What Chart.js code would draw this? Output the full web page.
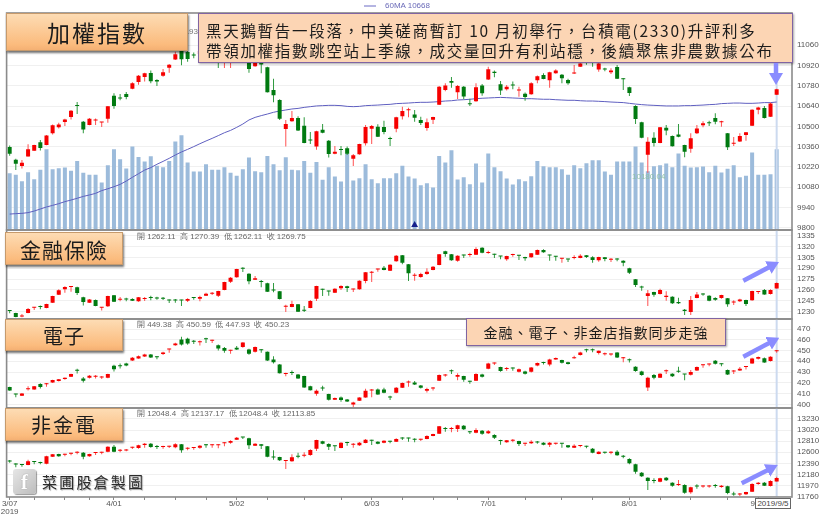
<!DOCTYPE html>
<html><head><meta charset="utf-8">
<script src="https://cdn.jsdelivr.net/npm/chart.js@4/dist/chart.umd.min.js"></script>
<style>
html,body{margin:0;padding:0;background:#fff}
#stage{position:relative;width:820px;height:517px;overflow:hidden;background:#fff;font-family:"Liberation Sans",Arial,sans-serif}
canvas{position:absolute;left:0;filter:blur(.3px)}
.tag{position:absolute;box-sizing:border-box;border:1px solid #c69a6c;background:linear-gradient(#fddcb4,#fbbb7d 85%,#f4b073);box-shadow:1px 2px 2px rgba(0,0,0,.55);color:#1c1c1c;font-family:"Noto Sans CJK TC";display:flex;align-items:center;justify-content:center;white-space:nowrap}
.note{position:absolute;box-sizing:border-box;border:1px solid #8064a2;background:#fcd5b4;color:#1c1c1c;font-family:"Noto Sans CJK TC";white-space:nowrap;box-shadow:1px 1px 2px rgba(0,0,0,.35)}
.info{position:absolute;left:137px;font-size:8px;line-height:10px;color:#666;white-space:nowrap}
</style></head><body>
<div id="stage">
<canvas id="c0" width="820" height="221" style="top:11px;width:820px;height:221px"></canvas>
<canvas id="c1" width="820" height="93" style="top:228px;width:820px;height:93px"></canvas>
<canvas id="c2" width="820" height="93" style="top:317px;width:820px;height:93px"></canvas>
<canvas id="c3" width="820" height="111" style="top:406px;width:820px;height:111px"></canvas>

<svg width="40" height="10" style="position:absolute;left:360px;top:1px"><line x1="4" y1="5" x2="16" y2="5" stroke="#6a6ac4" stroke-width="1"/></svg>
<div style="position:absolute;left:385px;top:1px;font-size:8px;line-height:10px;color:#6a6ab8">60MA 10668</div>
<div style="position:absolute;left:170px;top:27px;width:28px;text-align:right;font-size:8px;line-height:10px;color:#777">.93</div>
<div style="position:absolute;left:632px;top:172px;font-size:8px;line-height:10px;color:#8fbfa8">10180.04</div>

<div class="info" style="top:232px">開 1262.11 &nbsp;高 1270.39 &nbsp;低 1262.11 &nbsp;收 1269.75</div>
<div class="info" style="top:320px">開 449.38 &nbsp;高 450.59 &nbsp;低 447.93 &nbsp;收 450.23</div>
<div class="info" style="top:409px">開 12048.4 &nbsp;高 12137.17 &nbsp;低 12048.4 &nbsp;收 12113.85</div>

<div class="tag" style="left:6px;top:13px;width:182px;height:38px;font-size:23px;letter-spacing:2px">加權指數</div>
<div class="tag" style="left:5px;top:232px;width:118px;height:33px;font-size:21px;letter-spacing:1px">金融保險</div>
<div class="tag" style="left:5px;top:319px;width:118px;height:32px;font-size:20px;letter-spacing:1px">電子</div>
<div class="tag" style="left:5px;top:408px;width:118px;height:33px;font-size:20px;letter-spacing:2px">非金電</div>

<div class="note" style="left:198px;top:13px;width:595px;height:50px;font-size:15.5px;letter-spacing:1.7px;line-height:20px;padding:6px 0 0 7px">黑天鵝暫告一段落，中美磋商暫訂 10 月初舉行，台積電(2330)升評利多<br>帶領加權指數跳空站上季線，成交量回升有利站穩，後續聚焦非農數據公布</div>
<div class="note" style="left:466px;top:318px;width:260px;height:28px;font-size:14px;letter-spacing:1px;line-height:26px;text-align:center">金融、電子、非金店指數同步走強</div>

<div style="position:absolute;left:13px;top:469px;width:23px;height:25px;border-radius:3px;background:linear-gradient(135deg,#e6e6e6,#bdbdbd);box-shadow:1px 1px 1px rgba(0,0,0,.4);color:#fff;font:bold 22px/25px 'Liberation Serif',serif;text-align:center;text-shadow:0 0 1px #777">f</div>
<div style="position:absolute;left:42px;top:472px;font-family:'Noto Sans CJK TC';font-size:15px;line-height:20px;letter-spacing:2.2px;color:#2c2c2c;text-shadow:1px 1px 1px rgba(0,0,0,.35);white-space:nowrap">菜圃股倉製圖</div>

<div style="position:absolute;left:755px;top:498px;width:36px;height:11px;box-sizing:border-box;border:1px solid #666;background:#fff;font-size:8px;line-height:9px;text-align:center;color:#444;white-space:nowrap">2019/9/5</div>

<svg width="820" height="517" style="position:absolute;left:0;top:0;pointer-events:none">
<defs><marker id="ah" markerUnits="userSpaceOnUse" viewBox="0 0 12 14" refX="4" refY="7" markerWidth="12" markerHeight="14" orient="auto"><path d="M0,0 L12,7 L0,14 Z" fill="#8a8cff"/></marker></defs>
<g stroke="#8a8cff" stroke-width="4.5" marker-end="url(#ah)">
<line x1="776" y1="63" x2="776" y2="77"/>
<line x1="743.3" y1="280.7" x2="771.9" y2="265.7"/>
<line x1="743.3" y1="356.7" x2="772.2" y2="341.4"/>
<line x1="741.7" y1="483.3" x2="770.6" y2="468.7"/>
</g></svg>
</div>
<script>
// --- Taiwan weighted index (加權指數) ---
const idxOpen=[10357,10270,10226,10291,10332,10390,10371,10452,10493,10530,
10565,10641,10532,10509,10540,10527,10553,10712,10695,10723,
10760,10806,10841,10869,10820,10850,10905,10961,11021,11014,
10992,11000,11030,11060,11040,11000,10990,11020,11040,10960,
10915,10950,10908,10751,10682,10482,10535,10558,10505,10404,
10360,10477,10401,10311,10338,10348,10277,10307,10383,10484,
10498,10496,10414,10484,10569,10612,10581,10544,10489,10546,
10650,10751,10813,10735,10774,10655,10673,10783,10823,10878,
10790,10756,10784,10748,10726,10721,10818,10855,10818,10866,
10857,10820,10865,10912,10980,10970,10892,10895,10873,10910,
10828,10770,10641,10528,10304,10422,10385,10491,10433,10443,
10371,10346,10452,10507,10524,10558,10528,10452,10379,10396,
10440,10505,10615,10627,10567,10719];
const idxClose=[10311,10242,10249,10341,10371,10350,10436,10507,10512,10548,
10608,10640,10479,10553,10542,10529,10638,10641,10693,10703,
10797,10850,10866,10811,10809,10873,10926,10998,10963,10965,
10990,11020,11050,11040,11000,11030,11020,11050,11010,10896,
10950,10928,10735,10714,10553,10516,10558,10472,10385,10402,
10466,10456,10309,10325,10336,10311,10300,10378,10496,10502,
10429,10461,10412,10562,10606,10614,10560,10523,10528,10565,
10774,10783,10802,10779,10707,10653,10770,10728,10894,10869,
10747,10774,10782,10750,10703,10797,10846,10827,10873,10885,
10832,10797,10867,10935,10950,10940,10935,10893,10885,10829,
10826,10730,10551,10422,10394,10385,10493,10472,10362,10429,
10325,10417,10486,10521,10522,10532,10535,10355,10381,10433,
10459,10615,10631,10558,10657,10756];
const idxHigh=[10367,10277,10268,10376,10373,10406,10440,10512,10525,10553,
10613,10668,10537,10558,10555,10530,10641,10728,10723,10737,
10804,10855,10871,10885,10825,10896,10931,11016,11028,11021,
11011,11040,11070,11080,11060,11050,11040,11060,11060,10990,
10970,10960,10912,10829,10687,10544,10606,10569,10562,10461,
10470,10516,10406,10364,10364,10360,10309,10380,10509,10509,
10514,10539,10429,10567,10636,10629,10613,10567,10555,10567,
10779,10797,10841,10786,10779,10691,10797,10793,10912,10885,
10813,10786,10809,10774,10733,10804,10852,10866,10878,10894,
10862,10829,10924,10960,11000,10990,10950,10905,10901,10924,
10832,10774,10645,10532,10424,10459,10495,10509,10436,10516,
10373,10452,10509,10535,10539,10590,10539,10454,10426,10452,
10461,10618,10636,10641,10664,10760];
const idxLow=[10297,10198,10208,10291,10332,10334,10369,10443,10486,10502,
10548,10585,10452,10507,10509,10496,10525,10622,10680,10687,
10756,10788,10809,10797,10779,10843,10871,10958,10922,10947,
10970,10990,11020,11020,10903,10903,10903,10990,10990,10871,
10912,10866,10733,10666,10544,10360,10532,10468,10383,10378,
10339,10452,10284,10307,10300,10302,10226,10304,10367,10378,
10427,10445,10364,10459,10548,10562,10532,10509,10470,10516,
10648,10742,10767,10689,10687,10641,10670,10712,10820,10839,
10717,10747,10756,10705,10677,10719,10797,10825,10767,10864,
10797,10788,10862,10910,10925,10912,10878,10880,10862,10827,
10751,10710,10516,10417,10180,10360,10383,10438,10360,10424,
10286,10318,10447,10493,10502,10514,10498,10337,10364,10392,
10401,10503,10583,10555,10565,10717];
const ma60=[9894,9897,9899,9904,9915,9929,9943,9954,9966,9980,
9991,10003,10016,10026,10037,10056,10069,10083,10099,10122,
10148,10173,10198,10215,10238,10258,10279,10302,10323,10341,
10360,10380,10399,10417,10436,10456,10472,10493,10516,10544,
10562,10574,10585,10597,10606,10613,10620,10624,10631,10636,
10641,10643,10645,10645,10643,10638,10636,10638,10643,10645,
10647,10650,10652,10657,10659,10661,10664,10666,10666,10668,
10671,10675,10677,10682,10684,10687,10691,10694,10696,10698,
10700,10698,10696,10694,10691,10691,10689,10687,10687,10684,
10682,10680,10680,10677,10675,10675,10673,10671,10668,10666,
10664,10659,10654,10650,10647,10645,10643,10641,10641,10641,
10643,10643,10645,10647,10650,10652,10657,10659,10661,10661,
10659,10659,10661,10664,10664,10668];
const volume=[169,164,145,172,151,179,241,181,184,186,
176,206,170,164,164,141,193,241,211,183,
249,218,204,220,191,187,206,264,283,201,
174,174,196,179,179,187,170,161,181,216,
175,172,221,196,178,217,179,178,206,170,
203,149,187,159,144,228,147,154,196,151,
139,154,154,169,191,159,153,133,139,126,
221,201,238,150,157,136,198,141,228,187,
175,153,135,151,145,160,206,190,187,187,
181,164,193,184,199,208,208,174,164,204,
204,204,249,201,175,190,193,198,187,228,
191,186,187,189,172,191,171,182,193,157,
161,231,164,164,166,241];
// --- Finance & insurance (金融保險) ---
const finOpen=[1231,1228.2,1223.5,1228.2,1235.4,1236.5,1235.1,1242.4,1253.5,1260.9,
1264,1263.6,1249.8,1242.4,1246.1,1235.4,1237.4,1252.6,1246.5,1247.1,
1247.5,1244.3,1247.4,1249,1248.5,1248.1,1245.8,1245.8,1245.8,1245.2,
1249,1248,1252.1,1254.8,1252.1,1259.9,1271.4,1277.4,1289.5,1282.5,
1274.2,1271.1,1269.1,1259.6,1258.1,1236.8,1236.4,1240.1,1231.5,1235.1,
1248,1260.5,1258.2,1256.2,1262.2,1265,1260.8,1260.9,1272.4,1283.9,
1288.4,1290.8,1286.6,1299.5,1307.8,1295.4,1279.6,1277.9,1282,1287.6,
1294.5,1313.4,1309.2,1300.5,1307.9,1308.2,1308.7,1318.4,1310.9,1308.8,
1306.5,1302.3,1308.3,1307.5,1305.5,1305.1,1308.7,1315.2,1307.9,1306.1,
1303.1,1302.4,1304,1304.1,1307.8,1305.1,1300.9,1305.1,1301.7,1302.4,
1300.5,1289.9,1274.7,1263.7,1251.6,1257.2,1254.4,1250.3,1250.7,1243.4,
1232.8,1229.5,1248.9,1254,1252.1,1248.9,1248.9,1248.4,1242.8,1244.3,
1246.1,1245.7,1257.1,1259.9,1254.4,1262.11];
const finClose=[1230.8,1222.6,1223.7,1233.7,1235.6,1236.3,1240.6,1251.6,1259.5,1264.1,
1264.2,1255.8,1243.4,1247,1237.8,1235.6,1251.6,1243.8,1246.7,1246.9,
1245.2,1249.8,1247.6,1248.8,1248.3,1247.9,1245.6,1245.6,1245.6,1247.5,
1248.8,1250.3,1254.9,1255,1258.6,1271,1277,1288.9,1289.3,1271.9,
1276,1270.9,1257.6,1259.4,1247.5,1237,1240.6,1230,1231.3,1244.7,
1265.5,1260.3,1258,1261.8,1265.5,1262.7,1261,1272.8,1284.3,1285.3,
1288.6,1287.6,1294.9,1307.4,1297.7,1283,1279.8,1282,1285.3,1292.2,
1309.2,1309.7,1300.9,1307.4,1307.7,1308.4,1316.6,1311.5,1311.1,1308.6,
1306.3,1306.9,1309.7,1307.3,1303.7,1310.6,1315.2,1312,1307.7,1305.9,
1303.3,1302.2,1304.2,1307.4,1305.5,1301.4,1305.5,1302.8,1301.9,1302.2,
1297.7,1283.9,1266.8,1263.5,1255.3,1253.5,1259.9,1252.1,1241.5,1241.5,
1230.9,1246.1,1253.9,1253.8,1245.2,1246.6,1253,1240.1,1243,1247,
1240.6,1258.6,1257.3,1253.9,1259.9,1269.75];
const finHigh=[1232.3,1228.6,1226.8,1235.1,1236.4,1238.7,1241.1,1252.1,1260.9,1265,
1265.5,1264.5,1250.7,1247.5,1247,1236.4,1252.1,1253,1250.3,1249.3,
1248.4,1250.3,1250.3,1252.1,1250.7,1250.3,1247,1247.5,1246.6,1248.4,
1250.3,1252.1,1256.2,1257.2,1259,1271.4,1277.9,1289.4,1291.2,1283,
1279.3,1273.7,1270.1,1269.6,1258.6,1239.7,1245.2,1240.6,1237.8,1246.1,
1265.9,1261.8,1259,1262.2,1266.4,1265.9,1261.8,1273.3,1284.8,1286.2,
1289.4,1293.1,1295.4,1308.3,1308.3,1295.9,1283,1283.9,1289.9,1293.1,
1309.7,1314.3,1309.7,1307.8,1308.7,1311.5,1318.9,1318.9,1314.3,1310.1,
1306.9,1307.4,1310.1,1308.3,1306,1311,1315.7,1316.1,1308.7,1306.9,
1304.1,1303.2,1307.8,1309.2,1308.3,1306.4,1306,1305.5,1304.1,1303.7,
1300.9,1290.8,1275.1,1265.9,1259.9,1257.6,1261.8,1258.1,1251.2,1249.3,
1233.7,1251.6,1257.2,1255.3,1252.6,1249.8,1253.5,1248.9,1245.7,1248,
1246.6,1259,1258.6,1261.3,1260.9,1270.39];
const finLow=[1227.7,1222.2,1222.2,1227.7,1232.3,1233.2,1234.6,1242,1253,1256.2,
1257.6,1253,1238.7,1242,1237.4,1231.8,1236.4,1243.4,1244.3,1244.3,
1244.7,1243.8,1244.7,1245.7,1246.6,1246.1,1242,1242.4,1237.8,1243.4,
1246.6,1244.3,1251.6,1253,1250.3,1259.5,1269.6,1277,1284.8,1267.8,
1273.7,1263.6,1257.2,1256.7,1247,1229.5,1236,1229.5,1229.5,1234.6,
1244.7,1251.6,1252.1,1255.8,1259.9,1257.2,1257.2,1260.4,1269.1,1271,
1285.3,1287.1,1286.2,1299.1,1295.4,1272.4,1272.8,1277,1281.1,1287.1,
1294,1306,1300.5,1299.1,1304.1,1306,1308.3,1310.6,1310.1,1304.1,
1302.3,1300.5,1306,1301.4,1300.5,1304.6,1308.3,1311.5,1300.5,1300.5,
1297.7,1298.6,1302.3,1303.7,1304.1,1297.7,1299.1,1299.5,1298.6,1299.5,
1292.6,1282,1264.1,1259,1237.8,1250.7,1253.9,1245.2,1240.6,1240.6,
1225.4,1225.4,1248.4,1252.1,1244.3,1245.2,1248,1236.9,1239.2,1243.4,
1237.8,1245.2,1254.4,1253.5,1253.9,1262.11];
// --- Electronics (電子) ---
const eleOpen=[416,409.3,408,414.1,413.9,418.8,418.7,420.4,421.6,423.5,
425.7,431.3,424.1,424.7,425.6,424.9,424.7,435.8,435.6,438,
440.8,442.7,444.5,446.4,444,446.7,450.9,455,460.3,460.9,
458.3,457.7,460.7,459,455,452.3,449.7,452.6,453.2,451,
448.9,450.5,448.9,441.7,437.1,428.3,429.4,427.8,426.3,416.7,
409.8,414.9,409.5,404.3,406.4,404.6,399.9,403.3,406.4,412.9,
413.9,413.9,406.5,410.8,415.4,420.3,420.4,417.6,412.6,414.7,
421.9,426.8,431,425.6,426.3,421.1,421.9,427.8,433,437.9,
434.6,432.9,433.5,430.3,430.6,430.3,436.1,438.7,437.1,441.7,
441.1,439.2,442.9,445.8,450.5,450.5,447.6,446.6,446.3,448.2,
442.9,441.2,434.9,430.6,415.7,427.2,424.7,430.8,428.4,430.4,
427.9,427.5,431.5,436.4,437,440.5,437.5,431.8,430.5,431.5,
434.8,438,442.3,442.9,440.2,449.38];
const eleClose=[412.9,409.1,410.1,414.3,416.7,416,418.9,422.6,423.2,424.7,
428.1,431.1,421.9,426.6,425.8,425.1,428.1,432.7,435.4,436.1,
443.3,444.8,446.4,443.6,443.8,448.2,451.1,456.6,455.7,456.6,
458.1,457.9,460.5,459.2,452,449.8,449.9,451,457.5,447,
453.2,450.3,440.8,439.2,429,428.5,429.2,424.1,415.7,413.2,
412.6,414.7,404.3,405.8,404,402.7,401.8,406.4,412.6,413.9,
409.2,410.8,406.3,415.4,419.8,420.5,418.5,415.4,414.2,414.9,
427.2,427,430.8,427.2,422.9,420.9,428.1,425.6,438,438.1,
430.9,433.1,433.3,432.7,428.4,434.3,438.3,438.5,441.7,443,
438.6,437.4,443.1,448.2,450.3,450.3,449.8,446.8,446.5,443.6,
443.1,441,430.9,427.2,424.7,424.7,428.4,431,426,430.2,
427.7,430,434.6,436.6,437.2,437.7,437.3,427.8,430.7,433,
435,442.7,443.9,438.9,444.2,450.23];
const eleHigh=[416.3,409.8,410.5,416.7,417,419.5,419.8,422.9,423.5,425,
428.4,433,425.3,427.2,427.2,426.3,428.4,436.8,438,438.6,
443.9,445.4,447,446.7,444.8,448.9,451.6,457.2,462.8,461.9,
459.7,459.4,461.9,460,455.7,453.2,450.7,454.1,457.8,451.6,
453.8,451.3,449.2,444.8,437.4,429.3,431.5,428.1,426.6,417.3,
413.9,417.3,409.8,406.4,407.4,404.9,402.4,406.7,414.5,414.2,
414.8,415.4,408,416,420.4,422.2,421.6,417.9,415.4,416,
427.8,428.1,432.4,428.8,426.6,421.9,428.8,428.4,438.6,438.9,
434.9,434.6,434.3,433.4,431.2,434.6,438.9,439.6,442.3,443.6,
441.4,439.6,445.1,448.9,451.6,452,450.1,448.2,447.3,448.5,
443.9,442.7,435.5,431.2,425.7,428.1,429,432.4,428.8,434.9,
428.1,431.8,435.2,437.1,438,441.1,438,432.4,431.8,434.6,
435.5,443.3,444.5,443.6,444.8,450.59];
const eleLow=[412.6,406.7,407.7,412.9,413.6,414.8,416.4,419.8,421.3,422.9,
425.3,428.7,420.4,424.1,424.1,423.5,424.2,430.6,433.4,435.5,
440.2,442.3,443.9,443,442,445.8,447.9,454.4,454.7,455.4,
456,454.7,456.9,456.9,450.1,447.9,447,450.4,452.6,446.1,
448.2,447.9,440.2,438,428.7,426.2,427.2,423.8,415.4,412.9,
408,412.6,403.6,404,402.4,402.1,397.4,403,406.1,406.7,
408.9,410.2,404,410.2,415.1,416.4,417.9,414.8,411,412.9,
421.6,425.7,428.1,422.5,421,419.1,421.6,425,432.7,436.5,
430.3,431.2,431.2,429.6,427.8,429.6,435.5,437.1,435.5,441.4,
438,437.1,442.3,445.4,448.5,448.5,446.4,445.4,445.1,443,
439.2,438.9,430.3,426.5,412.3,423.2,424.4,428.1,425.3,429.3,
422.5,426.8,430.9,434,435.5,437.1,435.5,427.2,428.1,430.9,
432.4,437.7,441.7,438.6,439.9,447.93];
// --- Non-finance non-electronics (非金電) ---
const nonOpen=[12430,12373,12360,12359,12417,12398,12385,12517,12568,12554,
12573,12592,12593,12523,12585,12592,12612,12706,12630,12636,
12686,12681,12738,12763,12701,12699,12705,12694,12751,12668,
12680,12687,12733,12731,12731,12769,12782,12839,12884,12864,
12725,12751,12713,12505,12511,12434,12429,12518,12535,12549,
12669,12807,12757,12714,12681,12777,12743,12732,12776,12821,
12801,12782,12802,12801,12865,12865,12840,12838,12851,12908,
12952,13042,13040,13041,13104,12979,12971,13009,12959,12927,
12815,12788,12819,12814,12762,12769,12789,12782,12744,12762,
12764,12732,12687,12718,12707,12669,12567,12594,12592,12612,
12518,12473,12372,12214,12120,12057,12044,12120,12025,11980,
11981,11842,11957,11955,11955,11963,11943,11956,11805,11803,
11804,11855,12000,12025,11962,12048.4];
const nonClose=[12428,12371,12358,12429,12415,12396,12523,12561,12523,12556,
12575,12594,12517,12568,12587,12594,12706,12612,12632,12638,
12688,12732,12763,12700,12699,12701,12707,12751,12637,12670,
12682,12725,12731,12733,12733,12771,12814,12877,12882,12732,
12763,12725,12517,12503,12448,12436,12504,12516,12537,12643,
12833,12763,12706,12712,12782,12775,12745,12782,12839,12819,
12763,12820,12800,12852,12863,12863,12838,12840,12908,12946,
13091,13040,13042,13110,13034,12977,13022,12952,12997,12877,
12813,12826,12821,12757,12764,12801,12787,12744,12782,12764,
12762,12694,12725,12720,12705,12593,12612,12592,12594,12542,
12516,12391,12233,12145,12056,12055,12107,12069,11968,11982,
11836,11937,11955,11957,11957,11961,11968,11829,11803,11805,
11848,12000,12025,11968,12056,12113.85];
const nonHigh=[12454,12391,12378,12460,12435,12422,12536,12568,12574,12574,
12593,12618,12605,12574,12605,12612,12713,12738,12662,12662,
12706,12744,12776,12776,12738,12725,12725,12769,12757,12694,
12700,12738,12757,12751,12751,12788,12826,12889,12889,12877,
12769,12757,12719,12637,12517,12448,12561,12593,12599,12656,
12839,12820,12769,12725,12788,12801,12776,12795,12852,12839,
12807,12826,12820,12864,12883,12877,12864,12858,12921,12952,
13098,13079,13079,13123,13117,13003,13053,13022,13022,12940,
12839,12833,12852,12820,12782,12826,12814,12788,12795,12782,
12776,12738,12751,12738,12725,12681,12618,12612,12618,12637,
12549,12486,12385,12227,12126,12107,12120,12132,12031,12075,
11993,11949,11993,11974,11981,12000,11981,11968,11855,11829,
11855,12012,12038,12038,12069,12137.17];
const nonLow=[12403,12315,12328,12353,12372,12372,12372,12511,12517,12523,
12542,12561,12467,12517,12549,12561,12599,12599,12599,12618,
12662,12669,12687,12687,12662,12669,12681,12675,12593,12637,
12650,12669,12687,12687,12675,12713,12763,12833,12852,12662,
12719,12662,12504,12460,12435,12284,12422,12486,12504,12536,
12624,12751,12643,12624,12675,12725,12687,12719,12769,12738,
12751,12769,12769,12795,12833,12801,12788,12814,12845,12902,
12946,12990,12978,12984,13022,12946,12959,12933,12946,12851,
12744,12782,12788,12719,12719,12757,12763,12732,12700,12744,
12687,12681,12681,12694,12675,12580,12561,12574,12561,12536,
12486,12372,12195,12132,11886,12012,12031,12056,11949,11962,
11817,11817,11911,11930,11930,11930,11930,11804,11779,11772,
11791,11848,11987,11962,11955,12048.4];
// --- axes ---
const idxTicks=[9800,9940,10080,10220,10360,10500,10640,10780,10920,11060];
const finTicks=[1230,1245,1260,1275,1290,1305,1320,1335];
const eleTicks=[400,410,420,430,440,450,460,470];
const nonTicks=[11760,11970,12180,12390,12600,12810,13020,13230];
const xTickSlots=[0,4,9,13,17,22,27,32,37,42,48,54,59,64,69,73,78,84,90,95,101,106,111,117,122];
const monthSlots=[0,17,37,59,78,101,122];
const monthLabels=[['3/07','2019'],'4/01','5/02','6/03','7/01','8/01','9/02'];
const slotCount=128;  // 126 sessions plus two empty slots before the price axis
const lastSlot=125, markSlot=66, markValue=9818;

const RED='#f60000',GREEN='#007a10',RED_W='#ff5050',GREEN_W='#2f9a3f',VOL='#9cbbdb',BAND='#ccdaef',GRID='#f0f0f0',FRAME='#8b8b8b',TICK='#555';
const slots=Array.from({length:slotCount},(_,i)=>String(i));

const framePlugin={id:'frame',afterDraw(c){const a=c.chartArea,x=c.ctx;x.save();x.strokeStyle=FRAME;x.lineWidth=1.6;x.strokeRect(a.left,a.top,a.right-a.left,a.bottom-a.top);x.restore();}};

function candleSets(o,c,h,l,lo,hi){
  const up=o.map((v,i)=>c[i]>=v);
  const band=slots.map((_,i)=>i===lastSlot?[lo,hi]:null);
  return [
    {data:o.map((v,i)=>[v,c[i]]),backgroundColor:up.map(u=>u?RED:GREEN),barThickness:4,minBarLength:1,inflateAmount:0,yAxisID:'y',order:0},
    {data:l.map((v,i)=>[v,h[i]]),backgroundColor:up.map(u=>u?RED_W:GREEN_W),barThickness:1,inflateAmount:0,yAxisID:'y',order:1},
    {data:band,backgroundColor:BAND,barThickness:2,inflateAmount:0,yAxisID:'y',order:4}
  ];
}
function makeChart(id,sets,lo,hi,ticks,withX,withVol){
  const scales={
    x:{type:'category',labels:slots,offset:true,display:!!withX,
       grid:{drawOnChartArea:false,drawTicks:true,tickLength:3,offset:false,color:'#8a8a8a'},border:{display:false},
       afterBuildTicks(s){s.ticks=xTickSlots.map(v=>({value:v}));},
       ticks:{autoSkip:false,maxRotation:0,minRotation:0,padding:0,color:TICK,font:{family:'Liberation Sans',size:8,lineHeight:1},
         callback(v){const k=monthSlots.indexOf(v);return k<0?'':monthLabels[k];}}},
    y:{position:'right',min:lo,max:hi,
       afterBuildTicks(s){s.ticks=ticks.map(v=>({value:v}));},
       afterFit(s){s.width=28;s.paddingTop=0;s.paddingBottom=0;},
       grid:{color:GRID,lineWidth:1,drawTicks:false},border:{display:false},
       ticks:{autoSkip:false,padding:5,color:TICK,font:{family:'Liberation Sans',size:8},callback:v=>String(v)}}
  };
  if(withX)scales.x.afterFit=s=>{s.height=20;s.paddingLeft=0;s.paddingRight=0;};
  if(withVol)scales.vol={axis:'y',display:false,min:-2,max:651};
  return new Chart(document.getElementById(id),{type:'bar',data:{labels:slots,datasets:sets},plugins:[framePlugin],
    options:{responsive:false,animation:false,events:[],
      layout:{autoPadding:false,padding:{left:6.6,right:0,top:2,bottom:withX?0:2}},
      datasets:{bar:{grouped:false,borderSkipped:false}},
      plugins:{legend:{display:false},tooltip:{enabled:false}},scales}});
}
const top0=candleSets(idxOpen,idxClose,idxHigh,idxLow,9784,11283);
top0.push({type:'line',data:ma60,borderColor:'#5f5fc0',borderWidth:1,pointRadius:0,tension:0,yAxisID:'y',order:2});
top0.push({type:'line',data:slots.map((_,i)=>i===markSlot?markValue:null),showLine:false,pointStyle:'triangle',pointRadius:4,pointBackgroundColor:'#16208c',pointBorderWidth:0,yAxisID:'y',order:3});
top0.push({data:volume,backgroundColor:VOL,barThickness:4,inflateAmount:0,yAxisID:'vol',order:5});
makeChart('c0',top0,9784,11283,idxTicks,false,true);
makeChart('c1',candleSets(finOpen,finClose,finHigh,finLow,1219.9,1342.8),1219.9,1342.8,finTicks,false,false);
makeChart('c2',candleSets(eleOpen,eleClose,eleHigh,eleLow,396.6,479.3),396.6,479.3,eleTicks,false,false);
makeChart('c3',candleSets(nonOpen,nonClose,nonHigh,nonLow,11754,13438),11754,13438,nonTicks,true,false);
</script>
</body></html>
